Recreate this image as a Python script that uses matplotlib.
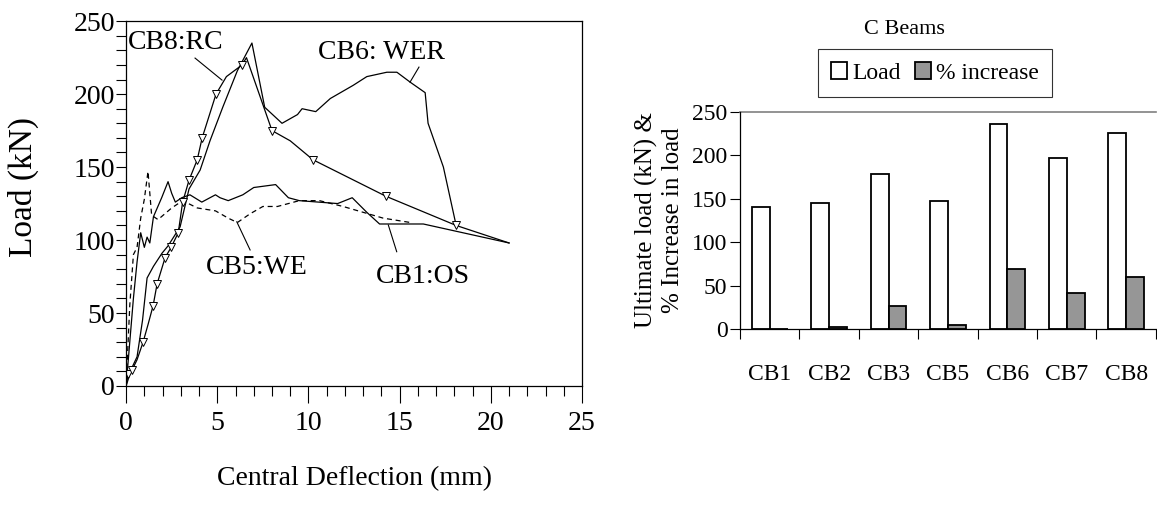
import numpy as np
import matplotlib
matplotlib.use("Agg")
import matplotlib.pyplot as plt
from matplotlib.ticker import MultipleLocator

plt.rcParams['font.family'] = ['Liberation Serif', 'DejaVu Serif']

# load-deflection curves (mm, kN)
cb1_x = [0, 0.2, 0.4, 0.6, 0.8, 1.0, 1.15, 1.3, 1.5, 1.95, 2.3, 2.5, 2.7, 3.05, 3.5, 4.15, 4.9,
         5.15, 5.6, 6.4, 7.0, 8.2, 8.9, 9.5, 11.6, 12.4, 13.2, 13.9, 16.3, 21.0]
cb1_y = [0, 30, 60, 85, 105, 95, 102, 98, 116, 129, 140, 132, 126, 129, 131, 126, 131,
         129, 127, 131, 136, 138, 129, 127, 125, 129, 119, 111, 111, 98]

cb5_x = [0, 0.2, 0.4, 0.6, 0.8, 1.0, 1.2, 1.4, 1.75, 2.5, 3.1, 3.9, 4.9, 5.6, 6.1, 6.8, 7.5,
         8.3, 9.5, 10.6, 11.9, 13.0, 14.1, 15.6]
cb5_y = [0, 55, 90, 95, 115, 128, 147, 117, 114, 122, 127, 122, 120, 115, 112, 118, 123,
         123, 127, 127, 123, 119, 115, 112]

cb6_x = [0, 0.3, 0.6, 0.9, 1.15, 1.5, 1.97, 2.3, 2.96, 3.45, 4.06, 4.6, 5.3, 6.1, 6.9, 7.6,
         8.55, 9.4, 9.65, 10.4, 11.2, 12.45, 13.2, 14.3, 14.85, 15.6, 16.4, 16.56, 17.4, 18.1]
cb6_y = [0, 12, 20, 45, 74, 82, 91, 96, 109, 135, 148, 168, 191, 216, 235, 191,
         180, 186, 190, 188, 197, 206, 212, 215, 215, 208, 201, 180, 150, 110]

cb8_x = [0, 0.1, 0.33, 0.6, 0.93, 1.2, 1.48, 1.7, 2.14, 2.47, 2.86, 3.1, 3.45, 3.9, 4.17,
         4.93, 5.5, 6.36, 6.6, 8.0, 9.0, 10.25, 14.25, 18.1, 21.0]
cb8_y = [0, 8, 11, 18, 30, 42, 55, 70, 88, 95, 105, 126, 141, 155, 170,
         200, 212, 220, 225, 175, 168, 155, 130, 110, 98]
cb8_marks = [1, 2, 4, 6, 7, 8, 9, 10, 11, 12, 13, 14, 15, 17, 19, 21, 22, 23]

# bar chart
beams = ['CB1', 'CB2', 'CB3', 'CB5', 'CB6', 'CB7', 'CB8']
ult_load = [140, 145, 178, 147, 236, 197, 226]
pct_increase = [0, 2, 27, 5, 69, 41, 60]

fig = plt.figure(figsize=(11.57, 5.16), dpi=100)

# ---- left: load vs deflection ----
ax1 = fig.add_axes([0.109, 0.252, 0.394, 0.707])
lw = 0.9
ax1.plot(cb1_x, cb1_y, color='black', lw=lw)
ax1.plot(cb5_x, cb5_y, color='black', lw=lw, ls=(0, (4, 3)))
ax1.plot(cb6_x, cb6_y, color='black', lw=lw)
ax1.plot(cb8_x, cb8_y, color='black', lw=lw, marker='v', markevery=cb8_marks,
         markersize=6, markerfacecolor='white', markeredgecolor='black', markeredgewidth=0.7)

ax1.set_xlim(0, 25)
ax1.set_ylim(0, 250)
ax1.xaxis.set_major_locator(MultipleLocator(5))
ax1.xaxis.set_minor_locator(MultipleLocator(1))
ax1.yaxis.set_major_locator(MultipleLocator(50))
ax1.yaxis.set_minor_locator(MultipleLocator(10))
ax1.tick_params(which='both', direction='out', labelsize=20, width=0.8)
ax1.tick_params(axis='x', which='major', length=12, pad=6)
ax1.tick_params(axis='x', which='minor', length=7)
ax1.tick_params(axis='y', which='both', length=7, pad=1)
for s in ax1.spines.values():
    s.set_linewidth(0.9)
ax1.set_xlabel('Central Deflection (mm)', fontsize=20, labelpad=22)
ax1.set_ylabel('Load (kN)', fontsize=24)
ax1.yaxis.set_label_coords(-0.192, 0.545)

# curve labels with leader lines
ax1.text(2.74, 235.6, 'CB8:RC', fontsize=20, ha='center', va='center')
ax1.plot([3.78, 5.26], [224.7, 209.6], color='black', lw=0.8)
ax1.text(14.0, 228.8, 'CB6: WER', fontsize=20, ha='center', va='center')
ax1.plot([16.06, 15.57], [218.5, 208.2], color='black', lw=0.8)
ax1.text(7.18, 81.5, 'CB5:WE', fontsize=20, ha='center', va='center')
ax1.plot([6.8, 6.07], [93.2, 112.5], color='black', lw=0.8)
ax1.text(16.3, 74.7, 'CB1:OS', fontsize=20, ha='center', va='center')
ax1.plot([14.84, 14.38], [92, 110.3], color='black', lw=0.8)

# ---- right: bar chart ----
ax2 = fig.add_axes([0.6396, 0.3624, 0.3594, 0.4211])
pos = np.arange(len(beams))
w = 0.3
ax2.bar(pos - w / 2, ult_load, w, color='white', edgecolor='black', lw=1.3, label='Load')
ax2.bar(pos + w / 2, pct_increase, w, color='#969696', edgecolor='black', lw=1.3,
        label='% increase')
ax2.set_xlim(-0.5, len(beams) - 0.5)
ax2.set_ylim(0, 250)
ax2.axhline(250, color='#808080', lw=1.2, clip_on=False)
ax2.spines['top'].set_visible(False)
ax2.spines['right'].set_visible(False)
ax2.spines['left'].set_linewidth(0.9)
ax2.spines['bottom'].set_linewidth(0.9)
ax2.set_yticks([0, 50, 100, 150, 200, 250])
ax2.set_xticks(pos)
ax2.set_xticklabels(beams)
ax2.set_xticks(np.arange(-0.5, len(beams)), minor=True)
ax2.tick_params(axis='x', which='major', length=0, pad=25, labelsize=17)
ax2.tick_params(axis='x', which='minor', length=7, width=0.8)
ax2.tick_params(axis='y', length=7, width=0.8, labelsize=17, pad=2)
ax2.set_ylabel('Ultimate load (kN) &\n% Increase in load', fontsize=18, labelpad=6,
               linespacing=1.25)

fig.text(0.782, 0.942, 'C Beams', fontsize=16, ha='center', va='center')
leg = fig.legend(loc='center', bbox_to_anchor=(0.808, 0.8585), ncol=2, fontsize=17,
                 frameon=True, fancybox=False, handlelength=0.7, handleheight=0.7,
                 handletextpad=0.2, columnspacing=0.6, borderpad=0.55)
leg.get_frame().set_edgecolor('black')
leg.get_frame().set_linewidth(0.8)

fig.savefig('out.png', dpi=100)
